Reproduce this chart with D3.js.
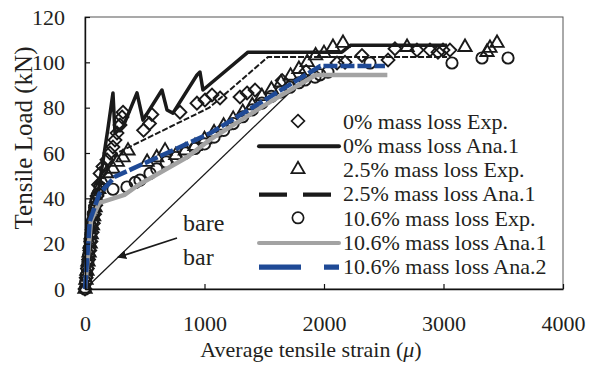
<!DOCTYPE html>
<html>
<head>
<meta charset="utf-8">
<script src="https://cdn.jsdelivr.net/npm/d3@7"></script>
<style>
body { margin: 0; background: #fff; }
text { font-family: "Liberation Serif", "Times New Roman", serif; fill: #231f20; }
</style>
</head>
<body>
<script>
// tensile load vs average strain, corroded bars

var xTicks = [0, 1000, 2000, 3000, 4000];
var yTicks = [0, 20, 40, 60, 80, 100, 120];

// ====== EXPERIMENT POINTS [strain, kN] ======
var exp0 = [[0,0],[10,5],[20,9],[30,13],[40,17],[50,21],[60,25],[70,29],[80,33],[90,37],[100,41],[113,46],
    [126,51],[150,54],[184,57],[209,60],[234,62.6],[251,65.7],[268,68.8],[293,72.3],[310,75.9],[318,78],
    [490,70],[540,73],[560,77],[795,78],[937,82],[1004,83.4],[1063,85.6],[1130,84.3],[1297,84.7],[1356,86.5],
    [1423,87.8],[1650,92],[1850,96],[2109,99.7],[2176,100],[2318,103],[2536,101],[2594,106],[2778,105.4],
    [2887,105.4],[2954,104.5],[2996,105.4],[3054,105.4]];

var exp25 = [[0,0],[8,4],[16,8],[25,12],[34,16],[43,20],[52,24],[62,28],[72,32],[84,36],[98,40],[115,44],
    [140,48],[180,51],[234,53],[270,56],[318,58],[360,61],[520,56],[600,58],[670,61],[760,59],[840,61],
    [920,63],[1000,66],[1080,69],[1160,72],[1240,75],[1320,78],[1400,81],[1480,85],[1560,88],[1640,91],
    [1720,94],[1790,97],[1860,100],[1930,103],[2000,104],[2075,106.7],[2159,108.5],[2695,106.7],
    [3180,106.7],[3364,104.5],[3389,106.3],[3448,108.5]];

var exp106 = [[0,0],[6,3],[12,6],[18,9],[24,12],[30,15],[36,18],[42,21],[48,24],[54,27],[62,30],[70,33],
    [80,36],[92,39],[108,42],[126,45],[234,44],[351,45],[420,47],[460,48],[544,51],[600,53],[680,56],
    [760,58],[840,60],[920,62],[1000,64],[1080,67],[1160,70],[1240,73],[1320,76],[1400,79],[1480,82],
    [1560,85],[1640,87],[1715,89],[1790,91],[1841,92.2],[1925,93.5],[1967,94.5],[2033,95.7],[2385,99.7],
    [3071,99.7],[3322,101.9],[3540,101.9]];

// ====== ANALYSIS CURVES ======
var ana0 = [[0,0],[60,26],[126,48],[190,70],[234,86.5],[251,68.8],[318,71.5],[435,86.5],[485,74.5],
    [644,87.8],[686,79],[736,77.6],[937,94.4],[962,95.7],[987,87.8],[1364,104.5],[2150,104.5],
    [2220,107.5],[3030,107.5]];
var ana25 = [[0,0],[50,25],[120,45],[200,55],[268,60],[1040,80],[1530,102.3],[3030,102.3]];
var ana106a = [[0,0],[50,30],[120,38],[330,41.5],[450,46],[850,58],[1050,66],[1500,81],[1930,94.4],[2530,94.4]];
var ana106b = [[0,0],[40,30],[120,42],[250,49.5],[1050,68.8],[1970,98.4],[2510,98.4]];
var bareBar = [[0,0],[1850,93.6]];

var legendLabels = ["0% mass loss Exp.", "0% mass loss Ana.1", "2.5% mass loss Exp.", "2.5% mass loss Ana.1",
    "10.6% mass loss Exp.", "10.6% mass loss Ana.1", "10.6% mass loss Ana.2"];

var width = 589, height = 366;
var svg = d3.select("body").append("svg")
    .attr("width", width)
    .attr("height", height);

var x = d3.scaleLinear().domain([0, 4000]).range([85, 563]);
var y = d3.scaleLinear().domain([0, 120]).range([289, 17]);

// frame
svg.append("rect")
    .attr("x", x(0)).attr("y", y(120))
    .attr("width", x(4000) - x(0)).attr("height", y(0) - y(120))
    .style("fill", "none").style("stroke", "#555").style("stroke-width", 1);

var line = d3.line().x(function(d) { return x(d[0]) }).y(function(d) { return y(d[1]) });

var diamond = d3.symbol().type(d3.symbolDiamond2).size(105);
var triangle = d3.symbol().type(d3.symbolTriangle2).size(125);
var circle = d3.symbol().type(d3.symbolCircle).size(100);

function drawPoints(data, sym) {
    svg.append("g").selectAll("path")
        .data(data)
        .enter().append("path")
            .attr("d", sym)
            .attr("transform", function(d) { return "translate(" + x(d[0]) + "," + y(d[1]) + ")" })
            .style("fill", "none")
            .style("stroke", "#1a1a1a")
            .style("stroke-width", 1.9);
}

function drawLine(data, color, w, dash) {
    svg.append("path")
        .datum(data)
        .attr("d", line)
        .style("fill", "none")
        .style("stroke", color)
        .style("stroke-width", w)
        .style("stroke-dasharray", dash)
        .style("stroke-linejoin", "round");
}

// bare bar
drawLine(bareBar, "#1a1a1a", 1.3, null);

// series in legend order
drawPoints(exp0, diamond);
drawLine(ana0, "#1a1a1a", 3.5, null);
drawPoints(exp25, triangle);
drawLine(ana25, "#1a1a1a", 2, "6,2");
drawPoints(exp106, circle);
drawLine(ana106a, "#a3a3a3", 4.5, null);
drawLine(ana106b, "#1f4a96", 4.5, "14,3");

// ====== AXES ======
var xAxis = svg.append("g")
    .attr("transform", "translate(0," + y(0) + ")")
    .call(d3.axisBottom(x).tickValues(xTicks).tickFormat(d3.format("d")).tickSizeInner(-5).tickSizeOuter(0));
xAxis.selectAll("text").attr("y", 26).style("font-size", "22px");

var yAxis = svg.append("g")
    .attr("transform", "translate(" + x(0) + ",0)")
    .call(d3.axisLeft(y).tickValues(yTicks).tickSizeInner(-5).tickSizeOuter(0));
yAxis.selectAll("text").attr("x", -20).style("font-size", "22px");

svg.selectAll(".domain").style("stroke", "#111").style("stroke-width", 1.4);
svg.selectAll(".tick line").style("stroke", "#111").style("stroke-width", 1.2);

var xTitle = svg.append("text")
    .attr("x", 311).attr("y", 357)
    .attr("text-anchor", "middle")
    .style("font-size", "22px")
    .text("Average tensile strain (");
xTitle.append("tspan").style("font-style", "italic").text("\u03bc");
xTitle.append("tspan").text(")");

svg.append("text")
    .attr("transform", "translate(32,138) rotate(-90)")
    .attr("text-anchor", "middle")
    .style("font-size", "25px")
    .text("Tensile Load (kN)");

// ====== BARE BAR NOTE ======
svg.append("defs").append("marker")
    .attr("id", "head")
    .attr("viewBox", "0 0 10 10")
    .attr("refX", 9).attr("refY", 5)
    .attr("markerWidth", 5).attr("markerHeight", 5)
    .attr("orient", "auto")
    .append("path").attr("d", "M0,0L10,5L0,10Z").style("fill", "#1a1a1a");

svg.append("line")
    .attr("x1", x(770)).attr("y1", y(22.5))
    .attr("x2", x(276)).attr("y2", y(14))
    .style("stroke", "#1a1a1a").style("stroke-width", 1.8)
    .attr("marker-end", "url(#head)");

svg.append("text").attr("x", x(820)).attr("y", y(25.4)).style("font-size", "24px").text("bare");
svg.append("text").attr("x", x(820)).attr("y", y(10.6)).style("font-size", "24px").text("bar");

// ====== LEGEND ======
var legend = svg.append("g");
var rowY = function(i) { return 121 + i * 24.2 };

legend.selectAll("text")
    .data(legendLabels)
    .enter().append("text")
        .attr("x", 343)
        .attr("y", function(d, i) { return rowY(i) })
        .attr("dy", "0.35em")
        .style("font-size", "22px")
        .text(function(d) { return d });

var legendMarks = [
    { row: 0, sym: diamond }, { row: 2, sym: triangle }, { row: 4, sym: circle }
];
legend.selectAll(".lm")
    .data(legendMarks)
    .enter().append("path")
        .attr("class", "lm")
        .attr("d", function(d) { return d.sym() })
        .attr("transform", function(d) { return "translate(298," + rowY(d.row) + ")" })
        .style("fill", "none").style("stroke", "#1a1a1a").style("stroke-width", 1.7);

var legendLines = [
    { row: 1, color: "#1a1a1a", w: 4, dash: null, cap: "round" },
    { row: 3, color: "#1a1a1a", w: 4.2, dash: "28,16", cap: "butt" },
    { row: 5, color: "#a3a3a3", w: 4, dash: null, cap: "round" },
    { row: 6, color: "#1f4a96", w: 5.2, dash: "42,23", cap: "butt" }
];
legend.selectAll(".ll")
    .data(legendLines)
    .enter().append("line")
        .attr("class", "ll")
        .attr("x1", 259).attr("x2", 339)
        .attr("y1", function(d) { return rowY(d.row) + 1 })
        .attr("y2", function(d) { return rowY(d.row) + 1 })
        .style("stroke", function(d) { return d.color })
        .style("stroke-width", function(d) { return d.w })
        .style("stroke-dasharray", function(d) { return d.dash })
        .style("stroke-linecap", function(d) { return d.cap });
</script>
</body>
</html>
